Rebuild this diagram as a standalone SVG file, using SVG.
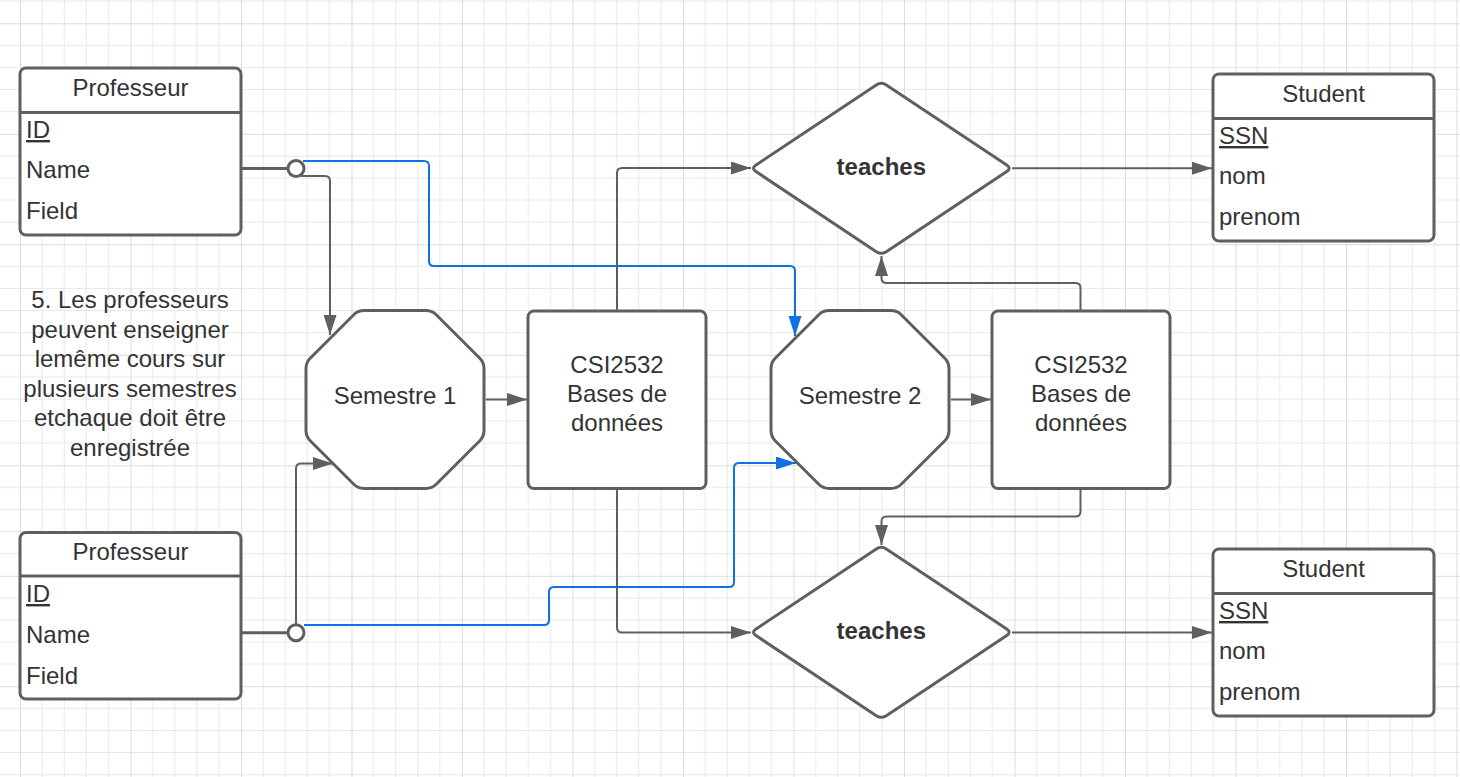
<svg xmlns="http://www.w3.org/2000/svg" width="1460" height="777" viewBox="0 0 1460 777">
<style>
.t{font-family:"Liberation Sans",Arial,sans-serif;font-size:24px;fill:#333333}
.c{text-anchor:middle}
.b{font-weight:bold}
.u{text-decoration:underline}
.node{fill:#ffffff;stroke:#5f5f5f;stroke-width:3}
.hl{stroke:#5f5f5f;stroke-width:3;fill:none}
.con{fill:none;stroke:#5f5f5f;stroke-width:2}
.thick{fill:none;stroke:#5f5f5f;stroke-width:3}
.blue{fill:none;stroke:#1071e5;stroke-width:2}
</style>
<defs>
<pattern id="grid" x="20" y="23.3" width="110.5" height="110.5" patternUnits="userSpaceOnUse">
<path d="M22.1 0V110.5M44.2 0V110.5M66.3 0V110.5M88.4 0V110.5M0 22.1H110.5M0 44.2H110.5M0 66.3H110.5M0 88.4H110.5" stroke="#e8e8e8" stroke-width="1" fill="none"/>
<path d="M0.5 0V110.5M0 0.5H110.5" stroke="#dcdcdc" stroke-width="1" fill="none"/>
</pattern>
<marker id="ag" markerUnits="userSpaceOnUse" markerWidth="20" markerHeight="13" refX="20" refY="6.5" orient="auto"><path d="M0 0L20 6.5L0 13Z" fill="#5f5f5f"/></marker>
<marker id="ab" markerUnits="userSpaceOnUse" markerWidth="20" markerHeight="13" refX="20" refY="6.5" orient="auto"><path d="M0 0L20 6.5L0 13Z" fill="#1071e5"/></marker>
<path id="oct" d="M58 0L120 0Q126 0 130.2 4.2L173.8 47.8Q178 52 178 58L178 120Q178 126 173.8 130.2L130.2 173.8Q126 178 120 178L58 178Q52 178 47.8 173.8L4.2 130.2Q0 126 0 120L0 58Q0 52 4.2 47.8L47.8 4.2Q52 0 58 0Z"/>
<path id="dia" d="M756 165L876.3 85Q881.3 81.7 886.3 85L1006.7 165Q1011.7 168.3 1006.7 171.6L886.3 251.7Q881.3 255 876.3 251.7L756 171.6Q751 168.3 756 165Z"/>
</defs>
<rect width="1460" height="777" fill="#ffffff"/>
<rect width="1460" height="777" fill="url(#grid)"/>

<g id="connectors">
<path class="thick" d="M242 168.5H288"/>
<path class="thick" d="M242 632.7H288"/>
<path class="con" d="M301 176H325Q330 176 330 181V335" marker-end="url(#ag)"/>
<path class="blue" d="M303 161H424Q429 161 429 166V261Q429 266 434 266H790Q795 266 795 271V336" marker-end="url(#ab)"/>
<path class="con" d="M296 624V468.5Q296 463.5 301 463.5H333" marker-end="url(#ag)"/>
<path class="blue" d="M304 625H544Q549 625 549 620V592Q549 587 554 587H729Q734 587 734 582V468Q734 463 739 463H796" marker-end="url(#ab)"/>
<path class="con" d="M486 399.5H527" marker-end="url(#ag)"/>
<path class="con" d="M951 399.5H991" marker-end="url(#ag)"/>
<path class="con" d="M617 310V173Q617 168 622 168H751" marker-end="url(#ag)"/>
<path class="con" d="M617 489V627.5Q617 632.5 622 632.5H751" marker-end="url(#ag)"/>
<path class="con" d="M1080.5 310V288Q1080.5 283 1075.5 283H886.5Q881.5 283 881.5 278V256" marker-end="url(#ag)"/>
<path class="con" d="M1080.5 489V511.5Q1080.5 516.5 1075.5 516.5H886.5Q881.5 516.5 881.5 521.5V545" marker-end="url(#ag)"/>
<path class="con" d="M1012 168.3H1212" marker-end="url(#ag)"/>
<path class="con" d="M1012 632.5H1212" marker-end="url(#ag)"/>
<circle cx="296" cy="168.5" r="8" fill="#ffffff" stroke="#5f5f5f" stroke-width="3"/>
<circle cx="296" cy="632.7" r="8" fill="#ffffff" stroke="#5f5f5f" stroke-width="3"/>
</g>

<g id="prof1">
<rect class="node" x="20" y="68" width="221" height="167" rx="6"/>
<path class="hl" d="M20 112.5H241"/>
<text class="t c" x="130.5" y="96">Professeur</text>
<text class="t u" x="26" y="138">ID</text>
<text class="t" x="26" y="178">Name</text>
<text class="t" x="26" y="219">Field</text>
</g>

<g id="prof2">
<rect class="node" x="20" y="532.5" width="221" height="166.5" rx="6"/>
<path class="hl" d="M20 576H241"/>
<text class="t c" x="130.5" y="560">Professeur</text>
<text class="t u" x="26" y="602">ID</text>
<text class="t" x="26" y="642.5">Name</text>
<text class="t" x="26" y="683.5">Field</text>
</g>

<g id="student1">
<rect class="node" x="1213" y="74" width="221" height="167" rx="6"/>
<path class="hl" d="M1213 118.5H1434"/>
<text class="t c" x="1323.5" y="102">Student</text>
<text class="t u" x="1219" y="144">SSN</text>
<text class="t" x="1219" y="184">nom</text>
<text class="t" x="1219" y="224.5">prenom</text>
</g>

<g id="student2">
<rect class="node" x="1213" y="549" width="221" height="167" rx="6"/>
<path class="hl" d="M1213 593.5H1434"/>
<text class="t c" x="1323.5" y="577">Student</text>
<text class="t u" x="1219" y="619">SSN</text>
<text class="t" x="1219" y="659">nom</text>
<text class="t" x="1219" y="699.5">prenom</text>
</g>

<g id="note">
<text class="t c" x="130" y="308">5. Les professeurs</text>
<text class="t c" x="130" y="338">peuvent enseigner</text>
<text class="t c" x="130" y="367">lemême cours sur</text>
<text class="t c" x="130" y="397">plusieurs semestres</text>
<text class="t c" x="130" y="426">etchaque doit être</text>
<text class="t c" x="130" y="456">enregistrée</text>
</g>

<g id="semestre1">
<use href="#oct" class="node" transform="translate(306 310.5)"/>
<text class="t c" x="395" y="403.5">Semestre 1</text>
</g>

<g id="semestre2">
<use href="#oct" class="node" transform="translate(771 310.5)"/>
<text class="t c" x="860" y="403.5">Semestre 2</text>
</g>

<g id="csi1">
<rect class="node" x="528" y="311" width="178" height="177.5" rx="6"/>
<text class="t c" x="617" y="373">CSI2532</text>
<text class="t c" x="617" y="402">Bases de</text>
<text class="t c" x="617" y="431">données</text>
</g>

<g id="csi2">
<rect class="node" x="992" y="311" width="178" height="177.5" rx="6"/>
<text class="t c" x="1081" y="373">CSI2532</text>
<text class="t c" x="1081" y="402">Bases de</text>
<text class="t c" x="1081" y="431">données</text>
</g>

<g id="teaches1">
<use href="#dia" class="node"/>
<text class="t c b" x="881.3" y="174.5">teaches</text>
</g>

<g id="teaches2">
<use href="#dia" class="node" transform="translate(0 464)"/>
<text class="t c b" x="881.3" y="638.5">teaches</text>
</g>
</svg>
